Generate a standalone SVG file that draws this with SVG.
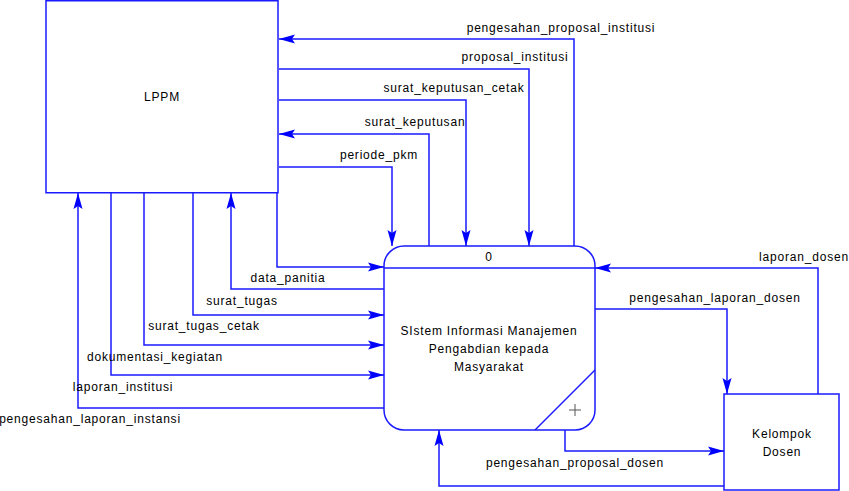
<svg xmlns="http://www.w3.org/2000/svg" width="849" height="491" viewBox="0 0 849 491">
<style>
text{font-family:"Liberation Sans",Arial,sans-serif;font-size:12px;fill:#000;letter-spacing:0.8px}
.lbl{text-anchor:middle}
.box{fill:#fff;stroke:#1a1aff;stroke-width:1.5}
.c path{fill:none;stroke:#1a1aff;stroke-width:1.5;marker-end:url(#arr)}
</style>
<defs>
<marker id="arr" markerUnits="userSpaceOnUse" markerWidth="18" markerHeight="10" refX="16" refY="5" orient="auto">
<path d="M0,0.5 L16,5 L0,9.5 L3,5 Z" fill="#0000ff"/>
</marker>
</defs>
<rect width="849" height="491" fill="#fff"/>
<g id="lppm">
<rect class="box" x="46" y="0.75" width="232" height="192"/>
<text class="lbl" x="162" y="101">LPPM</text>
</g>
<g id="proses0">
<rect class="box" x="384" y="246" width="211" height="184" rx="20" ry="20"/>
<line x1="384" y1="268" x2="595" y2="268" stroke="#1a1aff" stroke-width="1.5"/>
<line x1="595" y1="370" x2="535" y2="430" stroke="#1a1aff" stroke-width="1.5"/>
<path d="M575,404 V416 M569,410 H581" stroke="#555" stroke-width="1" fill="none"/>
<text class="lbl" x="489" y="261">0</text>
<text class="lbl" x="489" y="335">SIstem Informasi Manajemen</text>
<text class="lbl" x="489" y="353">Pengabdian kepada</text>
<text class="lbl" x="489" y="371">Masyarakat</text>
</g>
<g id="kelompok">
<rect class="box" x="724" y="394" width="115" height="96"/>
<text class="lbl" x="782" y="438">Kelompok</text>
<text class="lbl" x="782" y="456">Dosen</text>
</g>
<g id="connectors" class="c">
<path d="M574,246 V39 H279"/>
<path d="M279,69 H529 V246"/>
<path d="M279,100 H466 V246"/>
<path d="M429,246 V134 H279"/>
<path d="M279,167 H392 V246"/>
<path d="M277,193 V267 H384"/>
<path d="M384,289 H231 V193"/>
<path d="M193,193 V315 H384"/>
<path d="M144,193 V345 H384"/>
<path d="M111,193 V375 H384"/>
<path d="M384,408 H78 V193"/>
<path d="M818,394 V268 H595"/>
<path d="M595,309 H727 V394"/>
<path d="M565,430 V451 H724"/>
<path d="M724,486 H439 V430"/>
</g>
<g id="labels">
<text class="lbl" x="561" y="32">pengesahan_proposal_institusi</text>
<text class="lbl" x="515" y="61">proposal_institusi</text>
<text class="lbl" x="454" y="92">surat_keputusan_cetak</text>
<text class="lbl" x="415" y="126">surat_keputusan</text>
<text class="lbl" x="379" y="159">periode_pkm</text>
<text class="lbl" x="288" y="282">data_panitia</text>
<text class="lbl" x="242" y="305">surat_tugas</text>
<text class="lbl" x="204" y="330">surat_tugas_cetak</text>
<text class="lbl" x="155" y="361">dokumentasi_kegiatan</text>
<text class="lbl" x="123" y="391">laporan_institusi</text>
<text class="lbl" x="90" y="423">pengesahan_laporan_instansi</text>
<text class="lbl" x="804" y="261">laporan_dosen</text>
<text class="lbl" x="715" y="302">pengesahan_laporan_dosen</text>
<text class="lbl" x="575" y="467">pengesahan_proposal_dosen</text>
</g>
</svg>
